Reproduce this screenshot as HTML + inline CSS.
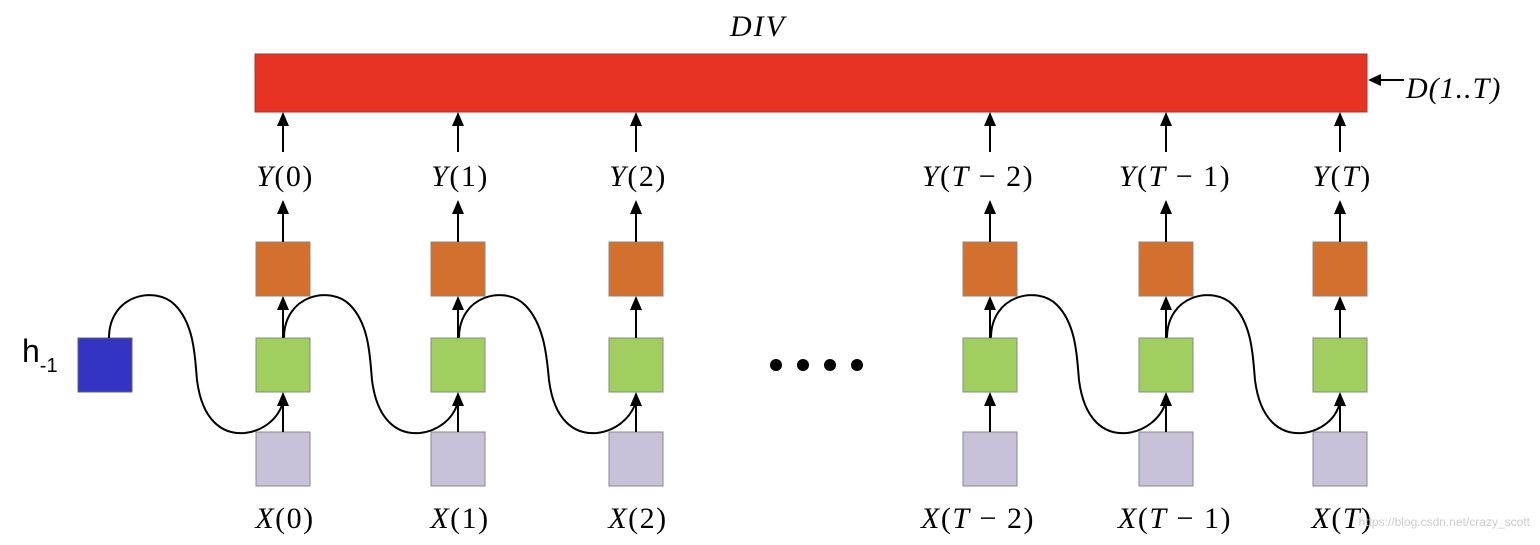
<!DOCTYPE html>
<html><head><style>
body{margin:0;background:#fff;}
svg text{font-family:"Liberation Serif",serif;font-style:italic;}
</style></head><body>
<svg width="1540" height="540" viewBox="0 0 1540 540" xmlns="http://www.w3.org/2000/svg">
<defs><marker id="a" markerWidth="14" markerHeight="12" refX="12" refY="6" orient="auto" markerUnits="userSpaceOnUse" viewBox="0 0 14 12"><path d="M0,0 L14,6 L0,12 Z" fill="#000"/></marker></defs>
<text x="758" y="36" font-size="30" text-anchor="middle" letter-spacing="2">DIV</text>
<rect x="255" y="54" width="1112" height="58" fill="#e73323" stroke="#a03a30"/>
<line x1="1404" y1="80" x2="1370" y2="80" stroke="#000" stroke-width="2"/>
<path d="M1368,80 l13,-6 v12z" fill="#000"/>
<text x="1406" y="98" font-size="30" font-style="normal" letter-spacing="1"><tspan font-style="italic">D</tspan>(1..<tspan font-style="italic">T</tspan>)</text>
<text x="22" y="362" font-size="32" style="font-family:'Liberation Sans',sans-serif;font-style:normal">h<tspan font-size="20" dy="10">-1</tspan></text>
<rect x="78" y="338" width="54" height="54" fill="#3333c4" stroke="#666"/>
<g fill="#000"><circle cx="776" cy="365" r="6"/><circle cx="803" cy="365" r="6"/><circle cx="830" cy="365" r="6"/><circle cx="857" cy="365" r="6"/></g>
<g stroke="#000" stroke-width="2" fill="none">
<path d="M109,338 C109,295 155,285 175,305 C195,325 195,360 197,380 C202,420 222,435 245,433 C262,431 278,420 283,402"/>
<path d="M284,338 C284,295 330,285 350,305 C370,325 370,360 372,380 C377,420 397,435 420,433 C437,431 453,420 458,402"/>
<path d="M459,338 C459,295 505,285 525,305 C545,325 547,360 549,380 C554,420 574,435 597,433 C614,431 630,420 636,402"/>
<path d="M991,338 C991,295 1037,285 1057,305 C1077,325 1077,360 1079,380 C1084,420 1104,435 1127,433 C1144,431 1160,420 1166,402"/>
<path d="M1167,338 C1167,295 1213,285 1233,305 C1253,325 1253,360 1255,380 C1260,420 1280,435 1303,433 C1320,431 1336,420 1340,402"/>
</g>
<g font-size="30" text-anchor="middle" letter-spacing="1.5">
<g transform="translate(283,0)"><rect x="-27" y="242" width="54" height="54" fill="#d4702e" stroke="#888"/><rect x="-27" y="338" width="54" height="54" fill="#a0cf60" stroke="#888"/><rect x="-27" y="432" width="54" height="54" fill="#c9c0d9" stroke="#888"/><line x1="0" y1="432" x2="0" y2="394" stroke="#000" stroke-width="2" marker-end="url(#a)"/><line x1="0" y1="338" x2="0" y2="298" stroke="#000" stroke-width="2" marker-end="url(#a)"/><line x1="0" y1="242" x2="0" y2="202" stroke="#000" stroke-width="2" marker-end="url(#a)"/><line x1="0" y1="152" x2="0" y2="114" stroke="#000" stroke-width="2" marker-end="url(#a)"/><text x="2" y="186">Y<tspan font-style="normal">(0)</tspan></text><text x="2" y="528">X<tspan font-style="normal">(0)</tspan></text></g>
<g transform="translate(458,0)"><rect x="-27" y="242" width="54" height="54" fill="#d4702e" stroke="#888"/><rect x="-27" y="338" width="54" height="54" fill="#a0cf60" stroke="#888"/><rect x="-27" y="432" width="54" height="54" fill="#c9c0d9" stroke="#888"/><line x1="0" y1="432" x2="0" y2="394" stroke="#000" stroke-width="2" marker-end="url(#a)"/><line x1="0" y1="338" x2="0" y2="298" stroke="#000" stroke-width="2" marker-end="url(#a)"/><line x1="0" y1="242" x2="0" y2="202" stroke="#000" stroke-width="2" marker-end="url(#a)"/><line x1="0" y1="152" x2="0" y2="114" stroke="#000" stroke-width="2" marker-end="url(#a)"/><text x="2" y="186">Y<tspan font-style="normal">(1)</tspan></text><text x="2" y="528">X<tspan font-style="normal">(1)</tspan></text></g>
<g transform="translate(636,0)"><rect x="-27" y="242" width="54" height="54" fill="#d4702e" stroke="#888"/><rect x="-27" y="338" width="54" height="54" fill="#a0cf60" stroke="#888"/><rect x="-27" y="432" width="54" height="54" fill="#c9c0d9" stroke="#888"/><line x1="0" y1="432" x2="0" y2="394" stroke="#000" stroke-width="2" marker-end="url(#a)"/><line x1="0" y1="338" x2="0" y2="298" stroke="#000" stroke-width="2" marker-end="url(#a)"/><line x1="0" y1="242" x2="0" y2="202" stroke="#000" stroke-width="2" marker-end="url(#a)"/><line x1="0" y1="152" x2="0" y2="114" stroke="#000" stroke-width="2" marker-end="url(#a)"/><text x="2" y="186">Y<tspan font-style="normal">(2)</tspan></text><text x="2" y="528">X<tspan font-style="normal">(2)</tspan></text></g>
<g transform="translate(990,0)"><rect x="-27" y="242" width="54" height="54" fill="#d4702e" stroke="#888"/><rect x="-27" y="338" width="54" height="54" fill="#a0cf60" stroke="#888"/><rect x="-27" y="432" width="54" height="54" fill="#c9c0d9" stroke="#888"/><line x1="0" y1="432" x2="0" y2="394" stroke="#000" stroke-width="2" marker-end="url(#a)"/><line x1="0" y1="338" x2="0" y2="298" stroke="#000" stroke-width="2" marker-end="url(#a)"/><line x1="0" y1="242" x2="0" y2="202" stroke="#000" stroke-width="2" marker-end="url(#a)"/><line x1="0" y1="152" x2="0" y2="114" stroke="#000" stroke-width="2" marker-end="url(#a)"/><text x="-12" y="186">Y<tspan font-style="normal">(</tspan>T<tspan font-style="normal"> − 2)</tspan></text><text x="-12" y="528">X<tspan font-style="normal">(</tspan>T<tspan font-style="normal"> − 2)</tspan></text></g>
<g transform="translate(1166,0)"><rect x="-27" y="242" width="54" height="54" fill="#d4702e" stroke="#888"/><rect x="-27" y="338" width="54" height="54" fill="#a0cf60" stroke="#888"/><rect x="-27" y="432" width="54" height="54" fill="#c9c0d9" stroke="#888"/><line x1="0" y1="432" x2="0" y2="394" stroke="#000" stroke-width="2" marker-end="url(#a)"/><line x1="0" y1="338" x2="0" y2="298" stroke="#000" stroke-width="2" marker-end="url(#a)"/><line x1="0" y1="242" x2="0" y2="202" stroke="#000" stroke-width="2" marker-end="url(#a)"/><line x1="0" y1="152" x2="0" y2="114" stroke="#000" stroke-width="2" marker-end="url(#a)"/><text x="9" y="186">Y<tspan font-style="normal">(</tspan>T<tspan font-style="normal"> − 1)</tspan></text><text x="9" y="528">X<tspan font-style="normal">(</tspan>T<tspan font-style="normal"> − 1)</tspan></text></g>
<g transform="translate(1340,0)"><rect x="-27" y="242" width="54" height="54" fill="#d4702e" stroke="#888"/><rect x="-27" y="338" width="54" height="54" fill="#a0cf60" stroke="#888"/><rect x="-27" y="432" width="54" height="54" fill="#c9c0d9" stroke="#888"/><line x1="0" y1="432" x2="0" y2="394" stroke="#000" stroke-width="2" marker-end="url(#a)"/><line x1="0" y1="338" x2="0" y2="298" stroke="#000" stroke-width="2" marker-end="url(#a)"/><line x1="0" y1="242" x2="0" y2="202" stroke="#000" stroke-width="2" marker-end="url(#a)"/><line x1="0" y1="152" x2="0" y2="114" stroke="#000" stroke-width="2" marker-end="url(#a)"/><text x="2" y="186">Y<tspan font-style="normal">(</tspan>T<tspan font-style="normal">)</tspan></text><text x="2" y="528">X<tspan font-style="normal">(</tspan>T<tspan font-style="normal">)</tspan></text></g>
</g>
<text x="1530" y="526" font-size="12" text-anchor="end" fill="#ccc" style="font-family:'Liberation Sans',sans-serif;font-style:normal">https://blog.csdn.net/crazy_scott</text>
</svg>
</body></html>
